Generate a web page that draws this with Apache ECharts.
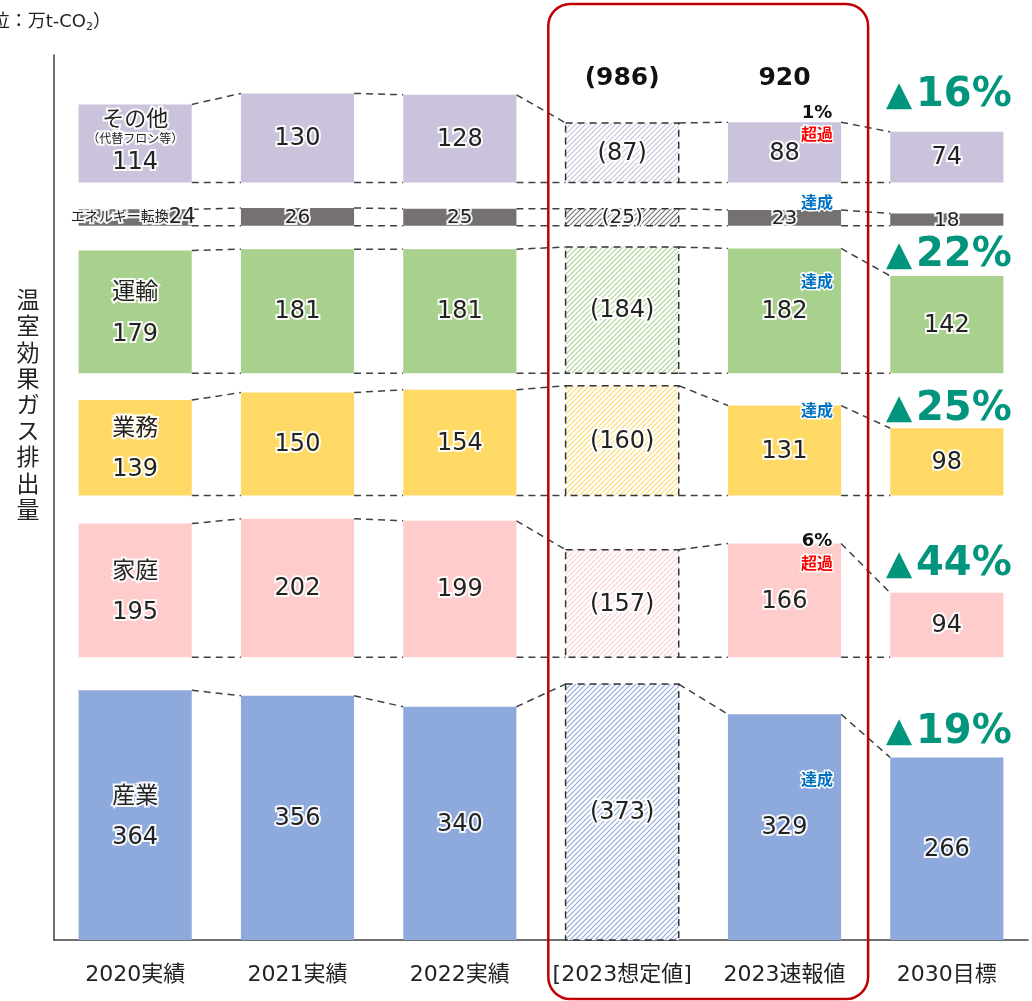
<!DOCTYPE html>
<html><head><meta charset="utf-8">
<script src="https://cdn.jsdelivr.net/npm/echarts@6/dist/echarts.min.js"></script>
<style>html,body{margin:0;padding:0;background:#fff}#c{width:1032px;height:1001px}</style>
</head><body><div id="c"></div>
<script>
// ---- data ----
const years = ['2020実績', '2021実績', '2022実績', '[2023想定値]', '2023速報値', '2030目標'];
const sectorNames = ['産業', '家庭', '業務', '運輸', 'エネルギー転換', 'その他'];
const sangyo = [364, 356, 340, 373, 329, 266];
const katei  = [195, 202, 199, 157, 166, 94];
const gyomu  = [139, 150, 154, 160, 131, 98];
const unyu   = [179, 181, 181, 184, 182, 142];
const energy = [24, 26, 25, 25, 23, 18];
const sonota = [114, 130, 128, 87, 88, 74];
const bandBase = [0, 412, 648, 826, 1041, 1104];     // axis value where each sector band starts
const totals = ['', '', '', '(986)', '920', ''];
const reduction = ['19%', '44%', '25%', '22%', '', '16%'];
const note2023Pct = ['', '6%', '', '', '', '1%'];
const note2023Tag = ['達成', '超過', '達成', '達成', '達成', '超過'];

// ---- style / layout ----
const FONT = '"DejaVu Sans", "Noto Sans CJK JP", sans-serif';
const colors = ['#8EA9DB', '#FFCCCC', '#FFD966', '#A9D18E', '#767171', '#CBC2DC'];
const reductionDy = [-25, -28, -19, -20, 0, -36];
const tagDy = [67, 21, 6, 34, -6, 14];
const pctDy = [0, -2, 0, 0, 0, -9];
const BAR_RATIO = 0.697;
const sectorVals = [sangyo, katei, gyomu, unyu, energy, sonota];

function hatch(color) {
  const n = 5;
  const c = document.createElement('canvas'); c.width = n; c.height = n;
  const g = c.getContext('2d');
  g.fillStyle = '#fff'; g.fillRect(0, 0, n, n);
  g.strokeStyle = color; g.lineWidth = 1.1;
  g.beginPath();
  g.moveTo(0, n); g.lineTo(n, 0);
  g.moveTo(-1, 1); g.lineTo(1, -1);
  g.moveTo(n - 1, n + 1); g.lineTo(n + 1, n - 1);
  g.stroke();
  return { image: c, repeat: 'repeat' };
}
const hatches = colors.map(hatch);

const halo = { stroke: 'rgba(255,255,255,0.9)', lineWidth: 4 };
const dashStyle = { stroke: '#404040', lineWidth: 1.5, lineDash: [7, 5], fill: null };

function makeSeries(s) {
  const vals = sectorVals[s];
  const base = bandBase[s];
  return {
    type: 'custom',
    name: sectorNames[s],
    data: vals.map((v, i) => [i, v]),
    renderItem: function (params, api) {
      const i = api.value(0);
      const v = api.value(1);
      const top = api.coord([i, base + v]);
      const bot = api.coord([i, base]);
      const w = api.size([1, 0])[0] * BAR_RATIO;
      const x0 = top[0] - w / 2;
      const cx = top[0];
      const children = [];
      if (i < vals.length - 1) {
        const nt = api.coord([i + 1, base + vals[i + 1]]);
        children.push({ type: 'line', shape: { x1: x0 + w, y1: top[1], x2: nt[0] - w / 2, y2: nt[1] }, style: dashStyle, z2: 1 });
        if (s > 0) {
          children.push({ type: 'line', shape: { x1: x0 + w, y1: bot[1], x2: nt[0] - w / 2, y2: bot[1] }, style: dashStyle, z2: 1 });
        }
      }
      const isPlan = i === 3;
      children.push({
        type: 'rect',
        shape: { x: x0, y: top[1], width: w, height: bot[1] - top[1] },
        style: isPlan ? { fill: hatches[s], stroke: '#333', lineWidth: 1.5, lineDash: [7, 5] } : { fill: colors[s] },
        z2: 2
      });
      const my = (top[1] + bot[1]) / 2;
      if (i === 0) {
        let txt, rich;
        if (s === 4) {
          txt = '{a|エネルギー転換}{b|' + v + '}';
          rich = { a: { fontSize: 14, fontFamily: FONT, fill: '#222' }, b: { fontSize: 21, fontFamily: FONT, fill: '#222' } };
          children.push({ type: 'text', style: Object.assign({ text: txt, rich: rich, x: cx - 2, y: my, align: 'center', verticalAlign: 'middle' }, halo), z2: 5 });
        } else if (s === 5) {
          txt = '{a|その他}\n{c|（代替フロン等）}\n{b|' + v + '}';
          rich = {
            a: { fontSize: 22, fontFamily: FONT, fill: '#222', lineHeight: 22 },
            c: { fontSize: 12, fontFamily: FONT, fill: '#222', lineHeight: 16 },
            b: { fontSize: 24, fontFamily: FONT, fill: '#222', lineHeight: 30 }
          };
          children.push({ type: 'text', style: Object.assign({ text: txt, rich: rich, x: cx, y: my, align: 'center', verticalAlign: 'middle' }, halo), z2: 5 });
        } else {
          txt = '{a|' + sectorNames[s] + '}\n{b|' + v + '}';
          rich = {
            a: { fontSize: 23, fontFamily: FONT, fill: '#222', lineHeight: 41 },
            b: { fontSize: 24, fontFamily: FONT, fill: '#222', lineHeight: 41 }
          };
          children.push({ type: 'text', style: Object.assign({ text: txt, rich: rich, x: cx, y: my + 2, align: 'center', verticalAlign: 'middle' }, halo), z2: 5 });
        }
      } else {
        const t = isPlan ? '(' + v + ')' : String(v);
        children.push({
          type: 'text',
          style: Object.assign({ text: t, x: cx, y: my + 1, align: 'center', verticalAlign: 'middle', fontSize: s === 4 ? 20 : 24, fontFamily: FONT, fill: '#222' }, halo),
          z2: 5
        });
      }
      if (s === 5 && totals[i]) {
        children.push({ type: 'text', style: { text: totals[i], x: cx, y: top[1] - 44, align: 'center', verticalAlign: 'middle', fontSize: 25, fontWeight: 'bold', fontFamily: FONT, fill: '#111' }, z2: 6 });
      }
      if (i === 4) {
        const ax = x0 + w - 24;
        if (note2023Pct[s]) {
          children.push({ type: 'text', style: { text: note2023Pct[s], x: ax, y: top[1] + pctDy[s], align: 'center', verticalAlign: 'middle', fontSize: 18, fontWeight: 'bold', fontFamily: FONT, fill: '#111', stroke: '#fff', lineWidth: 3 }, z2: 6 });
        }
        const isOver = note2023Tag[s] === '超過';
        children.push({ type: 'text', style: { text: note2023Tag[s], x: ax, y: top[1] + tagDy[s], align: 'center', verticalAlign: 'middle', fontSize: 16, fontWeight: 'bold', fontFamily: FONT, fill: isOver ? '#FF0000' : '#0070C0', stroke: '#fff', lineWidth: 3 }, z2: 6 });
      }
      if (i === 5 && reduction[s]) {
        children.push({ type: 'text', style: {
          text: '{t|▲}{d|' + reduction[s] + '}', x: cx + 2, y: top[1] + reductionDy[s], align: 'center', verticalAlign: 'middle',
          rich: {
            t: { fontSize: 34, fontFamily: FONT, fill: '#00957C', padding: [0, 4, 0, 0] },
            d: { fontSize: 40, fontWeight: 'bold', fontFamily: FONT, fill: '#00957C' }
          }
        }, z2: 6 });
      }
      return { type: 'group', children: children };
    },
    z: 2
  };
}

const chart = echarts.init(document.getElementById('c'), null, { renderer: 'canvas' });
chart.setOption({
  animation: false,
  backgroundColor: '#fff',
  grid: { left: 54, right: 4, top: 55, bottom: 61 },
  xAxis: {
    type: 'category', data: years,
    axisLine: { show: true, lineStyle: { color: '#404040', width: 1.5 } },
    axisTick: { show: false },
    axisLabel: { fontSize: 22, color: '#222', fontFamily: FONT, margin: 24, interval: 0 }
  },
  yAxis: {
    type: 'value', min: 0, max: 1290,
    axisLine: { show: true, lineStyle: { color: '#404040', width: 1.5 } },
    axisTick: { show: false }, axisLabel: { show: false }, splitLine: { show: false }
  },
  series: sectorVals.map((_, s) => makeSeries(s))
});

const xl = chart.convertToPixel({ xAxisIndex: 0 }, 3);
const xr = chart.convertToPixel({ xAxisIndex: 0 }, 4);
const band = xr - xl;
chart.setOption({
  graphic: [
    { type: 'rect', shape: { x: xl - band * 0.455, y: 4, width: (xr + band * 0.515) - (xl - band * 0.455), height: 995, r: 22 },
      style: { fill: null, stroke: '#C00000', lineWidth: 2.5 }, z: 100 },
    { type: 'text', style: { text: '温\n室\n効\n果\nガ\nス\n排\n出\n量', x: 28, y: 407, align: 'center', verticalAlign: 'middle', fontSize: 23, lineHeight: 26.2, fontFamily: FONT, fill: '#222' } },
    { type: 'text', style: { text: '（単位：万t-CO{s|2}）', x: 111, y: 22, align: 'right', verticalAlign: 'middle', fontSize: 18, fontFamily: FONT, fill: '#222',
        rich: { s: { fontSize: 11, fontFamily: FONT, fill: '#222', padding: [10, 0, 0, 0] } } } }
  ]
});
</script>
</body></html>
